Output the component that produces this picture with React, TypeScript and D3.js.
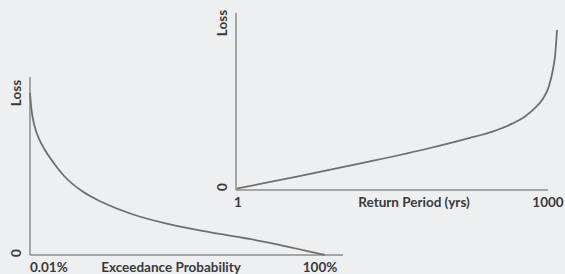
import React from 'react'
import * as d3 from 'd3'

// Exceedance probability curve (left chart), probability in %, loss normalised 0..1
const EP_PROB = [0.01, 0.5, 1.5, 3, 5, 8, 12, 18, 24, 35, 46, 58, 80, 100]
const EP_LOSS = [1.0, 0.9, 0.8, 0.72, 0.65, 0.57, 0.48, 0.39, 0.33, 0.25, 0.195, 0.15, 0.08, 0.0]

// Return period curve (right chart), years vs normalised loss
const RP_YEARS = [1, 188, 394, 604, 707, 813, 860, 900, 930, 956, 975, 987, 995, 1000]
const RP_LOSS = [0.009, 0.083, 0.169, 0.2625, 0.315, 0.375, 0.415, 0.46, 0.51, 0.57, 0.65, 0.75, 0.86, 1.0]

const EP_TICKS = ['0.01%', '100%']
const RP_TICKS = ['1', '1000']

const W = 565
const H = 274
const BG = '#eeeff1'
const AXIS = '#8c8c8c'
const CURVE = '#6f6f6f'
const TEXT = '#3a3a3a'
const FONT = 'Lato, "Open Sans", sans-serif'

export default function App() {
  // left chart scales
  const xL = d3.scaleLinear().domain([0.01, 100]).range([30, 325])
  const yL = d3.scaleLinear().domain([0, 1]).range([255, 93])
  // right chart scales
  const xR = d3.scaleLinear().domain([1, 1000]).range([237, 557])
  const yR = d3.scaleLinear().domain([0, 1]).range([190, 30])

  const epLine = d3.line<number>()
    .x((_, i) => xL(EP_PROB[i]))
    .y(d => yL(d))
    .curve(d3.curveMonotoneX)

  const rpLine = d3.line<number>()
    .x((_, i) => xR(RP_YEARS[i]))
    .y(d => yR(d))
    .curve(d3.curveMonotoneX)

  const txt = { fontFamily: FONT, fontSize: 13.5, fontWeight: 700, fill: TEXT }

  return (
    <svg width={W} height={H} style={{ position: 'absolute', left: 0, top: 0, background: BG }}>
      <rect width={W} height={H} fill={BG} />

      {/* Left: exceedance probability */}
      <g>
        <line x1={xL.range()[0]} x2={xL.range()[0]} y1={77} y2={yL(0)} stroke={AXIS} strokeWidth={1.5} />
        <line x1={xL.range()[0]} x2={343} y1={yL(0)} y2={yL(0)} stroke={AXIS} strokeWidth={1.5} />
        <path d={epLine(EP_LOSS) || ''} fill="none" stroke={CURVE} strokeWidth={1.8} />
        <text {...txt} transform={`translate(21,93) rotate(-90)`} textAnchor="middle">Loss</text>
        <text {...txt} transform={`translate(21,${yL(0) - 2}) rotate(-90)`} textAnchor="middle">0</text>
        <text {...txt} x={xL(0.01)} y={272}>{EP_TICKS[0]}</text>
        <text {...txt} x={171} y={272} textAnchor="middle">Exceedance Probability</text>
        <text {...txt} x={xL(100) - 5} y={272} textAnchor="middle">{EP_TICKS[1]}</text>
      </g>

      {/* Right: return period */}
      <g>
        <line x1={236} x2={236} y1={13} y2={yR(0)} stroke={AXIS} strokeWidth={1.5} />
        <line x1={236} x2={548} y1={yR(0)} y2={yR(0)} stroke={AXIS} strokeWidth={1.5} />
        <path d={rpLine(RP_LOSS) || ''} fill="none" stroke={CURVE} strokeWidth={1.8} />
        <text {...txt} transform={`translate(227,23) rotate(-90)`} textAnchor="middle">Loss</text>
        <text {...txt} transform={`translate(227,${yR(0) - 3}) rotate(-90)`} textAnchor="middle">0</text>
        <text {...txt} x={xR(1) + 1} y={207} textAnchor="middle">{RP_TICKS[0]}</text>
        <text {...txt} x={414} y={207} textAnchor="middle">Return Period (yrs)</text>
        <text {...txt} x={xR(1000) - 9} y={207} textAnchor="middle">{RP_TICKS[1]}</text>
      </g>
    </svg>
  )
}
